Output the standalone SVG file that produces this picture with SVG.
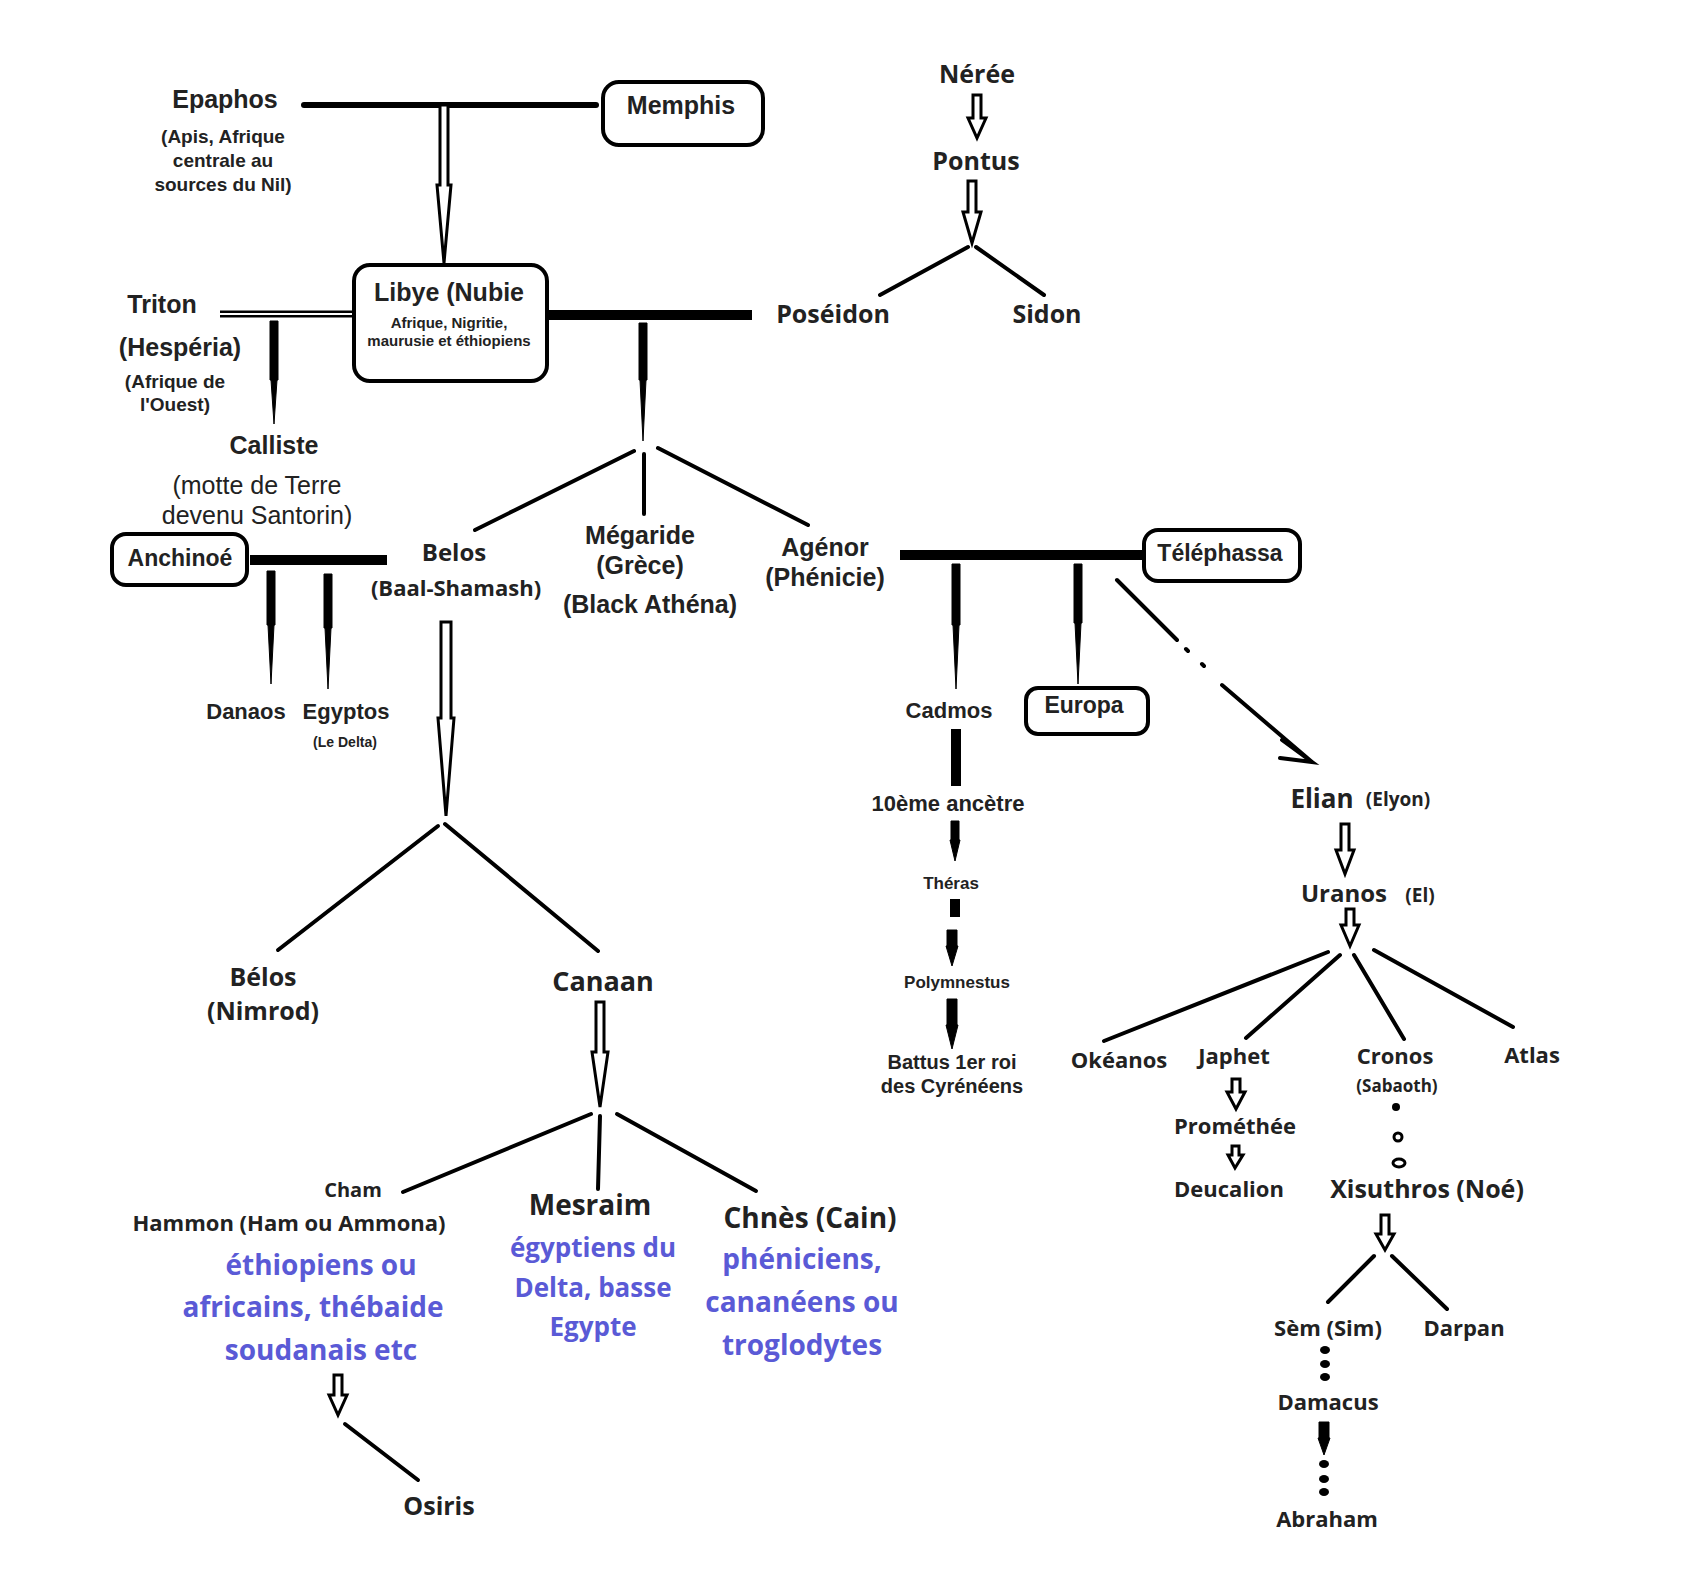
<svg xmlns="http://www.w3.org/2000/svg" width="1685" height="1573" viewBox="0 0 1685 1573">
<style>
.a{font-family:"Liberation Sans",Arial,sans-serif;font-weight:bold;fill:#222;text-anchor:middle}
.o{font-family:"Open Sans","Noto Sans",sans-serif;font-weight:bold;fill:#222;text-anchor:middle}
.r{font-family:"Liberation Sans",Arial,sans-serif;fill:#222;text-anchor:middle}
.b{font-family:"Open Sans","Noto Sans",sans-serif;font-weight:bold;fill:#5a5ad6;text-anchor:middle}
.box{fill:#fff;stroke:#000;stroke-width:4}
.ln{stroke:#000;stroke-width:4;fill:none;stroke-linecap:round}
.h{fill:#fff;stroke:#000;stroke-width:3;stroke-linejoin:miter}
.f{fill:#000;stroke:#000;stroke-width:1}
</style>
<g id="connectors">
<line class="ln" x1="304" y1="105" x2="596" y2="105" style="stroke-width:6"/>
<path class="h" d="M440,105 L448,105 L448,185 L451,185 L444,263 L437,185 L440,185 Z"/>
<line x1="220" y1="314" x2="354" y2="314" stroke="#000" stroke-width="7"/>
<line x1="220" y1="314" x2="354" y2="314" stroke="#fff" stroke-width="2"/>
<path class="f" d="M270,321 L278,321 L278,380 L277,380 L274,424 L271,380 L270,380 Z"/>
<line x1="542" y1="315" x2="752" y2="315" stroke="#000" stroke-width="10"/>
<path class="f" d="M639,323 L647,323 L647,380 L646,380 L643,441 L640,380 L639,380 Z"/>
<line class="ln" x1="634" y1="451" x2="475" y2="530"/>
<line class="ln" x1="644" y1="454" x2="644" y2="514"/>
<line class="ln" x1="658" y1="448" x2="808" y2="525"/>
<line x1="250" y1="560" x2="387" y2="560" stroke="#000" stroke-width="10"/>
<path class="f" d="M267,571 L275,571 L275,625 L274,625 L271,684 L268,625 L267,625 Z"/>
<path class="f" d="M324,574 L332,574 L332,628 L331,628 L328,689 L325,628 L324,628 Z"/>
<path class="h" d="M441,622 L451,622 L451,718 L454,718 L446,816 L438,718 L441,718 Z"/>
<line class="ln" x1="438" y1="826" x2="278" y2="950"/>
<line class="ln" x1="445" y1="824" x2="598" y2="951"/>
<path class="h" d="M596,1002 L604,1002 L604,1052 L608,1052 L600,1107 L592,1052 L596,1052 Z"/>
<line class="ln" x1="591" y1="1114" x2="403" y2="1192"/>
<line class="ln" x1="600" y1="1116" x2="598" y2="1189"/>
<line class="ln" x1="617" y1="1114" x2="756" y2="1191"/>
<path class="h" d="M334,1375 L342,1375 L342,1395 L347,1395 L338,1415 L329,1395 L334,1395 Z"/>
<line class="ln" x1="345" y1="1424" x2="418" y2="1480"/>
<path class="h" d="M973,95 L981,95 L981,118 L986,118 L977,138 L968,118 L973,118 Z"/>
<path class="h" d="M968,181 L976,181 L976,212 L981,212 L972,243 L963,212 L968,212 Z"/>
<line class="ln" x1="968" y1="247" x2="880" y2="295"/>
<line class="ln" x1="976" y1="247" x2="1044" y2="295"/>
<line x1="900" y1="555" x2="1144" y2="555" stroke="#000" stroke-width="10"/>
<path class="f" d="M952,564 L960,564 L960,625 L959,625 L956,689 L953,625 L952,625 Z"/>
<path class="f" d="M1074,564 L1082,564 L1082,623 L1081,623 L1078,684 L1075,623 L1074,623 Z"/>
<path class="ln" d="M1117,580 L1177,640 M1186,649 L1188,651 M1202,664 L1204,666 M1222,685 L1312,762 M1282,740 L1312,762 L1280,758" style="stroke-width:4"/>
<line x1="956" y1="729" x2="956" y2="786" stroke="#000" stroke-width="10"/>
<path class="f" d="M951,821 L959,821 L959,840 L960,840 L955,861 L950,840 L951,840 Z"/>
<rect x="950" y="899" width="10" height="18" fill="#000"/>
<path class="f" d="M947,930 L957,930 L957,946 L958,946 L952,966 L946,946 L947,946 Z"/>
<path class="f" d="M947,999 L957,999 L957,1025 L958,1025 L952,1049 L946,1025 L947,1025 Z"/>
<path class="h" d="M1341,824 L1349,824 L1349,850 L1354,850 L1345,874 L1336,850 L1341,850 Z"/>
<path class="h" d="M1346,909 L1354,909 L1354,925 L1359,925 L1350,946 L1341,925 L1346,925 Z"/>
<line class="ln" x1="1328" y1="952" x2="1104" y2="1041"/>
<line class="ln" x1="1340" y1="955" x2="1246" y2="1038"/>
<line class="ln" x1="1354" y1="955" x2="1404" y2="1039"/>
<line class="ln" x1="1374" y1="950" x2="1513" y2="1027"/>
<path class="h" d="M1232,1079 L1240,1079 L1240,1092 L1245,1092 L1236,1109 L1227,1092 L1232,1092 Z"/>
<path class="h" d="M1232,1146 L1239,1146 L1239,1155 L1243,1155 L1235,1168 L1228,1155 L1232,1155 Z"/>
<circle cx="1396" cy="1107" r="4" fill="#000"/>
<ellipse cx="1398" cy="1137" rx="4" ry="4" fill="none" stroke="#000" stroke-width="3"/>
<ellipse cx="1399" cy="1163" rx="6" ry="4" fill="none" stroke="#000" stroke-width="3"/>
<path class="h" d="M1381,1215 L1389,1215 L1389,1234 L1394,1234 L1385,1250 L1376,1234 L1381,1234 Z"/>
<line class="ln" x1="1374" y1="1256" x2="1328" y2="1302"/>
<line class="ln" x1="1392" y1="1256" x2="1447" y2="1309"/>
<ellipse cx="1325" cy="1350" rx="5" ry="4" fill="#000"/>
<ellipse cx="1325" cy="1364" rx="5" ry="4" fill="#000"/>
<ellipse cx="1325" cy="1377" rx="5" ry="4" fill="#000"/>
<path class="f" d="M1319,1422 L1329,1422 L1329,1438 L1330,1438 L1324,1455 L1318,1438 L1319,1438 Z"/>
<ellipse cx="1324" cy="1464" rx="5" ry="4" fill="#000"/>
<ellipse cx="1324" cy="1479" rx="5" ry="4" fill="#000"/>
<ellipse cx="1324" cy="1492" rx="5" ry="4" fill="#000"/>
</g>
<g id="epaphos"><text class="a" x="225" y="108" font-size="25">Epaphos</text>
<text class="a" x="223" y="143" font-size="19">(Apis, Afrique</text><text class="a" x="223" y="167" font-size="19">centrale au</text><text class="a" x="223" y="191" font-size="19">sources du Nil)</text></g>
<g id="memphis"><rect class="box" x="603" y="82" width="160" height="63" rx="16"/><text class="a" x="681" y="114" font-size="25">Memphis</text></g>
<g id="libye"><rect class="box" x="354" y="265" width="193" height="116" rx="16"/><text class="a" x="449" y="301" font-size="25">Libye (Nubie</text>
<text class="a" x="449" y="328" font-size="15">Afrique, Nigritie,</text><text class="a" x="449" y="346" font-size="15">maurusie et éthiopiens</text></g>
<g id="triton"><text class="a" x="162" y="313" font-size="25">Triton</text><text class="a" x="180" y="356" font-size="25">(Hespéria)</text>
<text class="a" x="175" y="388" font-size="19">(Afrique de</text><text class="a" x="175" y="411" font-size="19">l'Ouest)</text></g>
<g id="calliste"><text class="a" x="274" y="454" font-size="25">Calliste</text><text class="r" x="257" y="494" font-size="25">(motte de Terre</text><text class="r" x="257" y="524" font-size="25">devenu Santorin)</text></g>
<g id="poseidon"><text class="o" x="833" y="323" font-size="25">Poséidon</text></g>
<g id="neree"><text class="o" x="977" y="83" font-size="25">Nérée</text></g>
<g id="pontus"><text class="o" x="976" y="170" font-size="25">Pontus</text></g>
<g id="sidon"><text class="o" x="1047" y="323" font-size="25">Sidon</text></g>
<g id="anchinoe"><rect class="box" x="112" y="534" width="135" height="51" rx="14"/><text class="a" x="180" y="566" font-size="23">Anchinoé</text></g>
<g id="belos"><text class="o" x="454" y="561" font-size="24">Belos</text><text class="o" x="456" y="596" font-size="22">(Baal-Shamash)</text></g>
<g id="megaride"><text class="a" x="640" y="544" font-size="25">Mégaride</text><text class="a" x="640" y="574" font-size="25">(Grèce)</text><text class="a" x="650" y="613" font-size="25">(Black Athéna)</text></g>
<g id="agenor"><text class="a" x="825" y="556" font-size="25">Agénor</text><text class="a" x="825" y="586" font-size="25">(Phénicie)</text></g>
<g id="danaos"><text class="a" x="246" y="719" font-size="22">Danaos</text></g>
<g id="egyptos"><text class="a" x="346" y="719" font-size="22">Egyptos</text><text class="a" x="345" y="747" font-size="14">(Le Delta)</text></g>
<g id="telephassa"><rect class="box" x="1144" y="530" width="156" height="51" rx="14"/><text class="a" x="1220" y="561" font-size="23">Téléphassa</text></g>
<g id="cadmos"><text class="a" x="949" y="718" font-size="22">Cadmos</text></g>
<g id="europa"><rect class="box" x="1026" y="688" width="122" height="46" rx="12"/><text class="a" x="1084" y="713" font-size="23">Europa</text></g>
<g id="ancetre"><text class="a" x="948" y="811" font-size="22">10ème ancètre</text></g>
<g id="theras"><text class="a" x="951" y="889" font-size="17">Théras</text></g>
<g id="polymnestus"><text class="a" x="957" y="988" font-size="17">Polymnestus</text></g>
<g id="battus"><text class="a" x="952" y="1069" font-size="20">Battus 1er roi</text><text class="a" x="952" y="1093" font-size="20">des Cyrénéens</text></g>
<g id="belos2"><text class="o" x="263" y="986" font-size="25">Bélos</text><text class="o" x="263" y="1020" font-size="25">(Nimrod)</text></g>
<g id="canaan"><text class="o" x="603" y="991" font-size="27">Canaan</text></g>
<g id="cham"><text class="o" x="353" y="1197" font-size="20">Cham</text><text class="o" x="289" y="1231" font-size="22">Hammon (Ham ou Ammona)</text>
<text class="b" x="321" y="1275" font-size="28">éthiopiens ou</text><text class="b" x="313" y="1317" font-size="28">africains,  thébaide</text><text class="b" x="321" y="1360" font-size="28">soudanais etc</text></g>
<g id="mesraim"><text class="o" x="590" y="1215" font-size="28">Mesraim</text>
<text class="b" x="593" y="1257" font-size="26">égyptiens du</text><text class="b" x="593" y="1297" font-size="26">Delta, basse</text><text class="b" x="593" y="1336" font-size="26">Egypte</text></g>
<g id="chnes"><text class="o" x="810" y="1228" font-size="28">Chnès (Cain)</text>
<text class="b" x="802" y="1269" font-size="28">phéniciens,</text><text class="b" x="802" y="1312" font-size="28">cananéens ou</text><text class="b" x="802" y="1355" font-size="28">troglodytes</text></g>
<g id="osiris"><text class="o" x="439" y="1515" font-size="25">Osiris</text></g>
<g id="elian"><text class="o" x="1322" y="808" font-size="26">Elian</text><text class="o" x="1398" y="806" font-size="19">(Elyon)</text></g>
<g id="uranos"><text class="o" x="1344" y="902" font-size="24">Uranos</text><text class="o" x="1420" y="902" font-size="19">(El)</text></g>
<g id="okeanos"><text class="o" x="1119" y="1068" font-size="22">Okéanos</text></g>
<g id="japhet"><text class="o" x="1234" y="1064" font-size="22">Japhet</text></g>
<g id="promethee"><text class="o" x="1235" y="1134" font-size="22">Prométhée</text></g>
<g id="deucalion"><text class="o" x="1229" y="1197" font-size="22">Deucalion</text></g>
<g id="cronos"><text class="o" x="1395" y="1064" font-size="22">Cronos</text><text class="o" x="1397" y="1092" font-size="17" font-weight="normal">(Sabaoth)</text></g>
<g id="atlas"><text class="o" x="1532" y="1063" font-size="22">Atlas</text></g>
<g id="xisuthros"><text class="o" x="1427" y="1198" font-size="25">Xisuthros (Noé)</text></g>
<g id="sem"><text class="o" x="1328" y="1336" font-size="22">Sèm (Sim)</text></g>
<g id="darpan"><text class="o" x="1464" y="1336" font-size="22">Darpan</text></g>
<g id="damacus"><text class="o" x="1328" y="1410" font-size="22">Damacus</text></g>
<g id="abraham"><text class="o" x="1327" y="1527" font-size="22">Abraham</text></g>
</svg>
